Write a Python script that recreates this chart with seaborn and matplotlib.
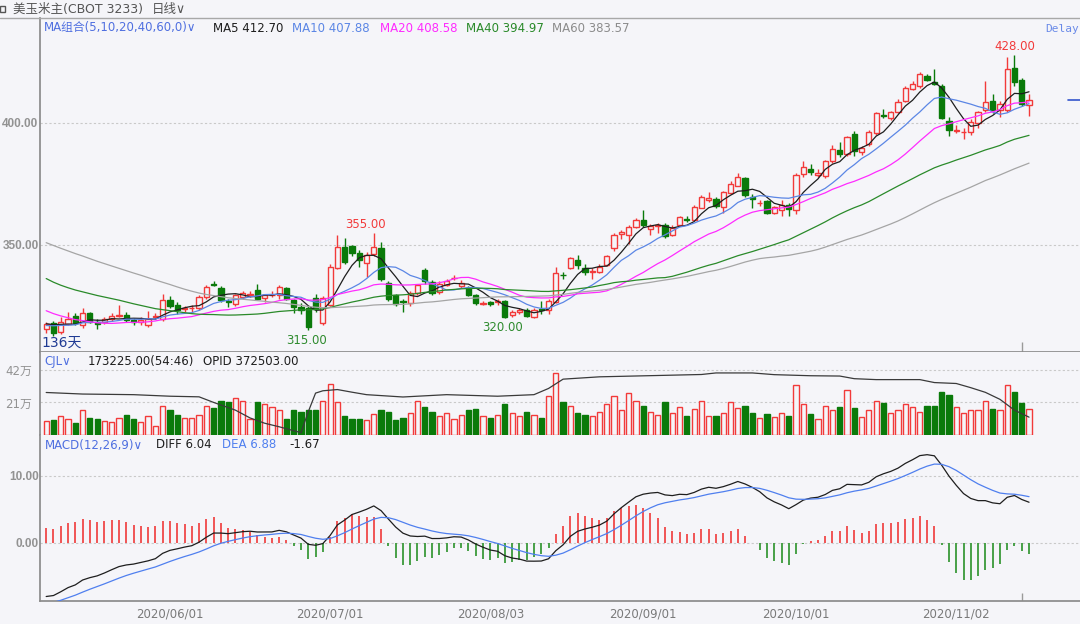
import numpy as np
import pandas as pd
import matplotlib
matplotlib.use('Agg')
import matplotlib.pyplot as plt
import seaborn as sns
from matplotlib.lines import Line2D
from matplotlib.transforms import blended_transform_factory

# ---- data ----
# closes before the visible window, only used to warm up the MA / MACD indicators
prior_closes = [384, 386, 385, 383, 382, 384, 381, 379, 378, 380, 377, 375, 374,
                378, 380, 382, 381, 383, 380, 374, 374, 368, 361,
                355, 352, 349, 347, 345, 346, 348, 349, 348, 346,
                348, 346, 344, 342, 341, 340, 339, 338, 337, 335, 333, 330, 328, 326, 324, 322,
                318, 315, 317, 319, 316, 314, 316, 318, 319, 318]

opens = [315.5, 318, 314.5, 317.5, 321, 317, 322, 318.6, 318.4, 319.6,
         321, 321.2, 319.4, 318.4, 317, 320.4, 319.5, 327.5, 325.4, 323.8,
         324.2, 324, 328.7, 333.8, 332.4, 327, 325.8, 328.7, 329.3, 331.5,
         328.3, 329.4, 329.5, 332.4, 327.5, 324.5, 324.2, 328.3, 318, 325.4,
         340.6, 349, 349.6, 346.7, 342.6, 346.3, 348.8, 334.4, 329.5, 326.8,
         326.2, 330.3, 339.8, 334.8, 330.7, 333.6, 336.3, 333.2, 332.4, 329.5,
         325.8, 326.5, 326.4, 327, 321.3, 322.5, 323.4, 320.5, 323.6, 323.4,
         326.6, 337.7, 340.6, 343.9, 340.6, 338.8, 339, 341.8, 348.8, 354.3,
         354, 357.4, 360.2, 356.5, 357.9, 358.2, 354, 358.2, 360.5, 360.2,
         365.2, 368.6, 369, 365.6, 371.3, 374.2, 377.5, 369.5, 367, 368,
         363, 364.5, 366.4, 364.3, 379, 381, 378.8, 378.3, 384.4, 389,
         387.3, 395.5, 388, 391.4, 396, 403.3, 402, 404.5, 409, 414,
         415, 419.3, 416.6, 415, 400.8, 396.8, 396.3, 396.3, 400, 405.3,
         409, 405.3, 405.3, 422.5, 417.6, 407.4]
closes = [317.5, 314, 318.5, 319.7, 317.8, 322, 318.5, 317.6, 319.7, 321,
          321.4, 319.4, 318.2, 319.4, 319.8, 321, 327.5, 325, 323.4, 324.2,
          324.2, 328.7, 332.8, 333.5, 327.5, 326.7, 329.5, 330.3, 329.8, 328,
          329.5, 329.6, 332.8, 328, 324.4, 323.5, 316.5, 323.8, 328.3, 341,
          349, 343, 346.7, 343.9, 346, 349, 336, 328, 325.8, 326.4,
          330.3, 333.6, 335.2, 330.3, 334, 335.2, 336.5, 334.4, 329.5, 326.2,
          326.3, 325.6, 327.2, 320.5, 322.5, 323.5, 321, 323.4, 323.4, 327,
          338.5, 337.5, 344.7, 341.8, 339, 339.2, 341, 345.5, 354, 355.4,
          357.4, 360.2, 358.2, 357.6, 358.1, 353.7, 357, 361.5, 360, 365.6,
          369.7, 369.4, 366, 371.7, 375, 377.9, 370.5, 369, 367.2, 363,
          365.6, 366.5, 364.8, 378.7, 382, 380, 379.6, 384.4, 389.3, 387.3,
          394.3, 388.5, 389.8, 396.3, 404, 403, 404.5, 408.6, 414.3, 416,
          420, 417.6, 416, 402, 397, 397.2, 396.4, 400.4, 404.5, 408.6,
          405.3, 407.8, 422, 416.8, 407.8, 409.4]
highs = [318.5, 319, 320.5, 322.5, 322, 324, 322.5, 319.5, 320.5, 322,
         325.4, 322.5, 320, 320.5, 323, 322, 330, 329, 326.5, 325,
         325.5, 329.5, 333.5, 335, 333, 328, 330, 331, 331, 334,
         330, 331, 333.5, 332.8, 328, 326, 325, 330, 329, 342,
         354, 353, 350, 348, 347, 355, 351, 335, 330, 328,
         331, 334, 340.5, 335.5, 335, 336, 337.5, 335.5, 333, 330,
         327, 327, 328, 327.5, 323.5, 324, 324, 324, 327, 328,
         341, 339, 345, 346, 342, 340.5, 342, 346, 355, 356,
         358, 361, 364.5, 358.5, 359, 359, 358, 362, 362, 366.5,
         370.5, 371.5, 369.5, 372, 376, 379.5, 378, 371, 368.5, 368.5,
         366, 368.5, 367, 379.5, 384.5, 383, 381, 385, 391, 392,
         394.8, 396.5, 390.5, 397, 404.5, 405.5, 405, 410, 415, 417,
         421, 420, 422, 416, 402.5, 399, 398, 401.5, 405, 417,
         412, 409, 427, 428, 418.5, 412]
lows = [314, 312.5, 313.5, 317, 317, 316, 318, 315.5, 317.5, 319,
        320.5, 318.5, 317, 317, 316.5, 319.8, 319, 324, 321.5, 322.5,
        322, 323.5, 328, 333, 326.5, 324.5, 325, 328, 328.5, 327.5,
        326.5, 328.5, 328, 327.5, 322, 321.5, 315, 322.5, 317, 325,
        340, 342, 345.5, 341, 337, 345.5, 335, 327, 325, 322.5,
        325, 329.5, 334, 329.5, 330, 333, 335.5, 332.5, 329, 325.5,
        325.5, 325, 325.5, 320, 320.5, 321.5, 320.5, 320, 321.5, 321.5,
        326, 336, 340, 340, 337.5, 336, 338.5, 341.5, 347.5, 352.5,
        350.5, 357, 357.5, 354, 355, 353, 353.5, 357.8, 359.5, 360,
        365, 367.5, 365, 363, 371, 374, 369.5, 365, 366, 362.5,
        362.5, 362, 362, 362.5, 378, 378.5, 378, 377.5, 383.5, 386,
        386.5, 386.5, 387, 390.5, 395, 402, 401, 404, 408.5, 413.5,
        414.5, 417, 415.5, 401.5, 394.5, 396, 393.5, 395, 398, 404.5,
        404, 402.5, 404.5, 415, 407, 403]
# volume in 万 contracts
volume = [9, 9.5, 12, 10, 8, 16, 11, 10, 9, 8.5, 11, 13, 10, 8.5, 12.5, 6, 19, 16, 13, 11,
          11, 13, 18.5, 17.5, 22, 21, 24, 22, 10, 21, 20, 18, 16, 10.5, 16, 15, 16, 16, 22, 33,
          21, 12, 10.5, 10.5, 9.5, 13.5, 16, 15, 9.5,
          11, 14, 22, 18, 15, 12, 14, 10, 13, 16, 17, 12, 11, 13, 20, 14, 12, 15, 13, 11,
          25, 40, 21, 19, 14, 13, 12, 15, 20, 25, 16, 27, 22, 19, 15, 13, 21, 14, 18, 12, 17,
          22, 12, 12, 14.5, 21.5, 17.5, 19, 14.5, 11, 13.5, 11.5, 14.5, 12, 32, 20, 13.5, 10, 19,
          16, 18, 29, 17.5, 11.5, 16, 22, 20.5, 14.5, 16, 20, 18, 15, 18.5, 18.5, 28, 25.5, 18,
          14.5, 16, 16, 22, 17, 16, 32, 27.5, 20.5, 17]
# open-interest line (on the volume scale), sampled at candle numbers
oi_idx = [0, 5, 12, 17, 21, 23, 26, 28, 30, 32, 35, 36, 37, 38, 40, 42, 44, 49, 55, 62,
          67, 69, 71, 76, 90, 92, 97, 100, 105, 109, 111, 114, 120, 122, 125, 127, 129, 131, 133, 135]
oi_val = [27.4, 26.4, 26, 25, 24.6, 21, 16, 11, 7.6, 5.3, 1.5, 15, 27, 28.5, 29.3, 27.6, 26, 24.5, 26, 25,
          26, 30, 36, 37.5, 39, 40, 40, 38.9, 38.2, 38, 36.3, 35.7, 35.7, 33.8, 33.2, 30.5, 27.5, 23, 16, 11.5]

holidays = ['2020-05-25', '2020-07-03', '2020-09-07']
tick_dates = ['2020/06/01', '2020/07/01', '2020/08/03', '2020/09/01', '2020/10/01', '2020/11/02']
ma_periods = [5, 10, 20, 40, 60]
ma_colors = ['#1E1E1E', '#5B86E5', '#FF2BFF', '#2A8A2A', '#A5A5A5']
ma_texts = ['MA5 412.70', 'MA10 407.88', 'MA20 408.58', 'MA40 394.97', 'MA60 383.57']

# ---- style ----
BG = '#F5F5F9'
RED = '#F23A3A'
GREEN = '#0A7A0A'
GRAY = '#929292'
sns.set_theme(style='white')
plt.rcParams['font.family'] = ['DejaVu Sans', 'Noto Sans CJK SC']
plt.rcParams['axes.unicode_minus'] = False

n = len(closes)
x = np.arange(n)
o = np.array(opens); c = np.array(closes); h = np.array(highs); l = np.array(lows)
up = c >= o
dates = pd.bdate_range('2020-05-06', periods=n, freq='C', holidays=holidays)
tick_pos = [dates.get_loc(pd.Timestamp(d)) for d in tick_dates]

full = pd.Series(prior_closes + closes, dtype=float)
k0 = len(prior_closes)
mas = [full.rolling(p).mean().iloc[k0:].to_numpy() for p in ma_periods]
ema12 = full.ewm(span=12, adjust=False).mean()
ema26 = full.ewm(span=26, adjust=False).mean()
diff = ema12 - ema26
dea = diff.ewm(span=9, adjust=False).mean()
diff = diff.iloc[k0:].to_numpy(); dea = dea.iloc[k0:].to_numpy()
hist = 2 * (diff - dea)

W, H = 1080, 624
def fx(px): return px / W
def fy(py): return 1 - py / H

fig = plt.figure(figsize=(10.8, 6.24), dpi=100, facecolor=BG)
ax_k = fig.add_axes([fx(40), fy(352), 1 - fx(40), fy(18) - fy(352)])
ax_v = fig.add_axes([fx(40), fy(435), 1 - fx(40), fy(352) - fy(435)], sharex=ax_k)
ax_m = fig.add_axes([fx(40), fy(601), 1 - fx(40), fy(435) - fy(601)], sharex=ax_k)

for ax in (ax_k, ax_v, ax_m):
    ax.set_facecolor(BG)
    for s in ('top', 'right'):
        ax.spines[s].set_visible(False)
    ax.spines['left'].set_color('#8C8C8C')
    ax.spines['bottom'].set_color('#8C8C8C')
    ax.tick_params(axis='x', length=0)
ax_v.spines['bottom'].set_visible(False)

# ---- candles ----
cols = np.where(up, RED, GREEN)
ax_k.vlines(x, l, h, colors=cols, linewidth=1, zorder=2)
body = np.maximum(np.abs(c - o), 0.12)
ax_k.bar(x, body, bottom=np.minimum(o, c), width=0.72, color=np.where(up, BG, GREEN),
         edgecolor=cols, linewidth=1, zorder=3)
for ma, col in zip(mas, ma_colors):
    sns.lineplot(x=x, y=ma, ax=ax_k, color=col, linewidth=0.9, estimator=None, zorder=4)
ax_k.set_xlim(-0.85, 142)
ax_k.set_ylim(306.1, 443.0)

# extremes
for i, val, dx, dy, col in [(45, highs[45], -8, 8, RED), (133, highs[133], 0, 8, RED),
                             (36, lows[36], -2, -10, '#2E8B2E'), (63, lows[63], -2, -9, '#2E8B2E')]:
    ax_k.annotate(f'{val:.2f}', (i, val), xytext=(dx, dy), textcoords='offset pixels',
                  ha='center', va='center', color=col, fontsize=8.5, zorder=6)

# last price marker on the right edge
tr = blended_transform_factory(ax_k.transAxes, ax_k.transData)
ax_k.plot([0.9885, 1.0], [closes[-1]] * 2, transform=tr, color='#3355CC', lw=1.2)
ax_k.vlines(n - 2, 0, 0.03, transform=blended_transform_factory(ax_k.transData, ax_k.transAxes),
            color='#9A9A9A', lw=1)

# ---- volume ----
ax_v.bar(x, volume, width=0.72, color=np.where(up, BG, GREEN), edgecolor=cols, linewidth=1, zorder=3)
sns.lineplot(x=oi_idx, y=oi_val, ax=ax_v, color='#3A3A3A', linewidth=0.9, estimator=None, zorder=4)
ax_v.set_ylim(0, 53.5)

# ---- MACD ----
ax_m.vlines(x, 0, hist, colors=np.where(hist >= 0, '#F04848', '#3A9A3A'), linewidth=1.3, zorder=3)
sns.lineplot(x=x, y=diff, ax=ax_m, color='#1E1E1E', linewidth=0.9, estimator=None, zorder=4)
sns.lineplot(x=x, y=dea, ax=ax_m, color='#4F7FEF', linewidth=0.9, estimator=None, zorder=4)
ax_m.set_ylim(-8.66, 16.1)
ax_m.vlines(n - 2, 0, 0.05, transform=blended_transform_factory(ax_m.transData, ax_m.transAxes),
            color='#9A9A9A', lw=1)

# ---- ticks & grids ----
def yaxis(ax, vals, labels, length=0, bold=True):
    ax.set_yticks(vals)
    ax.set_yticklabels(labels)
    ax.tick_params(axis='y', length=length, pad=1 if bold else 3, labelsize=8.5,
                   labelcolor=GRAY, color='#8C8C8C')
    for t in ax.get_yticklabels():
        if bold:
            t.set_fontweight('bold')
            t.set_family('Liberation Sans')
    for v in vals:
        ax.axhline(v, color='#C9C9C9', lw=0.8, ls=(0, (2, 2)), zorder=1)
    ax.set_ylabel('')
    ax.set_xlabel('')

yaxis(ax_k, [350, 400], ['350.00', '400.00'])
yaxis(ax_v, [21, 42], ['21万', '42万'], length=3, bold=False)
yaxis(ax_m, [0, 10], ['0.00', '10.00'])
ax_k.tick_params(axis='x', labelbottom=False)
ax_v.tick_params(axis='x', labelbottom=False)
ax_m.set_xticks(tick_pos)
ax_m.set_xticklabels(tick_dates)
ax_m.tick_params(axis='x', labelsize=8.5, labelcolor='#7A7A7A', pad=5)

# ---- header & legends ----
fig.add_artist(Line2D([0, 1], [fy(18)] * 2, color='#A8A8A8', lw=1))
fig.add_artist(plt.Rectangle((fx(0), fy(12)), fx(5), 6 / H, fill=False, ec='#555555', lw=1))
fig.text(fx(13), fy(9), '美玉米主(CBOT 3233)', fontsize=9, color='#555555', va='center')
fig.text(fx(152), fy(9), '日线∨', fontsize=9, color='#555555', va='center')

BLUE = '#4F6FE0'
fig.text(fx(44), fy(28), 'MA组合(5,10,20,40,60,0)∨', fontsize=8.5, color=BLUE, va='center')
for xp, txt, col in zip([213, 292, 380, 466, 552], ma_texts, ma_colors):
    fig.text(fx(xp), fy(28), txt, fontsize=8.5, color=col if col != '#A5A5A5' else '#8C8C8C', va='center')
fig.text(fx(1045), fy(29), 'Delay', fontsize=8, color='#6A8AE8', va='center', family='DejaVu Sans Mono')
fig.text(fx(41), fy(343), '136天', fontsize=10, color='#1F3A93', va='center')

fig.text(fx(44), fy(361), 'CJL∨', fontsize=8.5, color=BLUE, va='center')
fig.text(fx(88), fy(361), '173225.00(54:46)', fontsize=8.5, color='#1E1E1E', va='center')
fig.text(fx(203), fy(361), 'OPID 372503.00', fontsize=8.5, color='#1E1E1E', va='center')

fig.text(fx(45), fy(445), 'MACD(12,26,9)∨', fontsize=8.5, color=BLUE, va='center')
fig.text(fx(156), fy(445), 'DIFF 6.04', fontsize=8.5, color='#1E1E1E', va='center')
fig.text(fx(222), fy(445), 'DEA 6.88', fontsize=8.5, color='#4F7FEF', va='center')
fig.text(fx(289), fy(445), '-1.67', fontsize=8.5, color='#1E1E1E', va='center')

fig.savefig('out.png', dpi=100, facecolor=BG)
